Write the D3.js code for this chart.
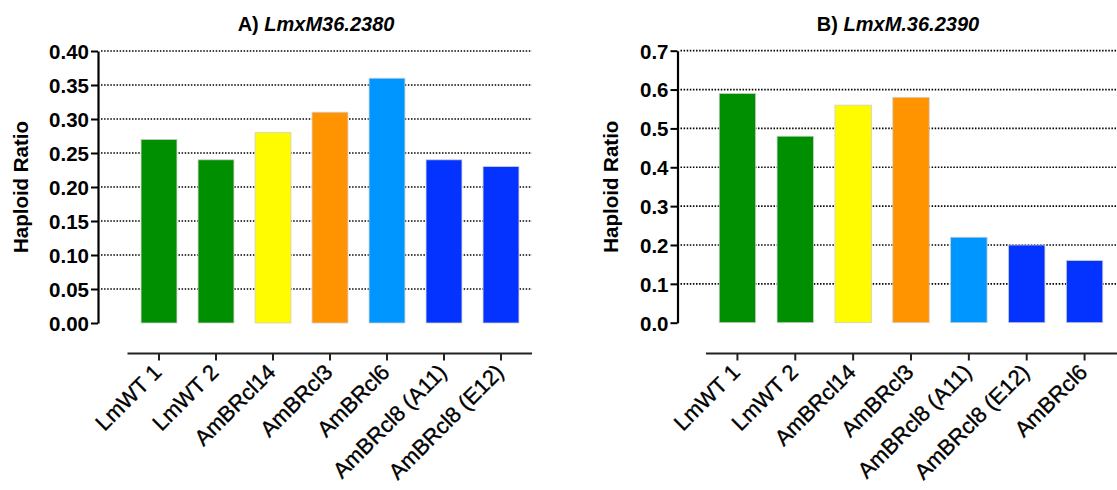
<!DOCTYPE html>
<html>
<head>
<meta charset="utf-8">
<script src="https://cdn.jsdelivr.net/npm/d3@7"></script>
<style>
  body { margin: 0; background: #fff; }
  svg text { font-family: "Liberation Sans", Arial, Helvetica, sans-serif; fill: #000; }
</style>
</head>
<body>
<svg id="chart" width="1117" height="490"></svg>
<script>
// data
const categoriesA = ["LmWT 1", "LmWT 2", "AmBRcl14", "AmBRcl3", "AmBRcl6", "AmBRcl8 (A11)", "AmBRcl8 (E12)"];
const valuesA = [0.27, 0.24, 0.28, 0.31, 0.36, 0.24, 0.23];
const colorsA = ["#008F00", "#008F00", "#FFFB00", "#FF9300", "#0096FF", "#0433FF", "#0433FF"];
const ticksA = [0, 0.05, 0.10, 0.15, 0.20, 0.25, 0.30, 0.35, 0.40];

const categoriesB = ["LmWT 1", "LmWT 2", "AmBRcl14", "AmBRcl3", "AmBRcl8 (A11)", "AmBRcl8 (E12)", "AmBRcl6"];
const valuesB = [0.59, 0.48, 0.56, 0.58, 0.22, 0.20, 0.16];
const colorsB = ["#008F00", "#008F00", "#FFFB00", "#FF9300", "#0096FF", "#0433FF", "#0433FF"];
const ticksB = [0, 0.1, 0.2, 0.3, 0.4, 0.5, 0.6, 0.7];

const svg = d3.select("#chart");

// panel layout
const panels = [
  { tag: "A) ", gene: "LmxM36.2380", cats: categoriesA, vals: valuesA, cols: colorsA, ticks: ticksA, fmt: ".2f",
    axisX: 98, top: 51, bottom: 323, gridEnd: 532, band: [130.5, 529.5], baseLine: [127.5, 532],
    baseY: 353.5, titleX: 316, labelX: 21 },
  { tag: "B) ", gene: "LmxM.36.2390", cats: categoriesB, vals: valuesB, cols: colorsB, ticks: ticksB, fmt: ".1f",
    axisX: 677.5, top: 50.7, bottom: 322.7, gridEnd: 1117, band: [708.5, 1113.5], baseLine: [706, 1117],
    baseY: 353.5, titleX: 898, labelX: 611 }
];

panels.forEach(function(p) {
  const y = d3.scaleLinear()
    .domain([0, d3.max(p.ticks)])
    .range([p.bottom, p.top]);

  const x = d3.scaleBand()
    .domain(p.cats)
    .range(p.band)
    .paddingInner(0.37)
    .paddingOuter(0.185);

  const g = svg.append("g");

  // dotted gridlines (none at zero)
  g.append("g")
    .selectAll("line")
    .data(p.ticks.filter(d => d > 0))
    .enter()
    .append("line")
    .attr("x1", p.axisX + 3)
    .attr("x2", p.gridEnd)
    .attr("y1", d => y(d))
    .attr("y2", d => y(d))
    .attr("stroke", "#000")
    .attr("stroke-width", 1.7)
    .attr("stroke-dasharray", "1.5,1.6");

  // bars
  g.append("g")
    .selectAll("rect")
    .data(p.vals)
    .enter()
    .append("rect")
    .attr("x", (d, i) => x(p.cats[i]))
    .attr("width", x.bandwidth())
    .attr("y", d => y(d))
    .attr("height", d => y(0) - y(d))
    .attr("fill", (d, i) => p.cols[i])
    .attr("stroke", "#cfcfcf")
    .attr("stroke-width", 0.8);

  // y axis
  const yAxis = g.append("g")
    .attr("transform", `translate(${p.axisX},0)`)
    .call(d3.axisLeft(y).tickValues(p.ticks).tickFormat(d3.format(p.fmt)).tickSize(7).tickSizeOuter(0).tickPadding(2));
  yAxis.select(".domain").attr("stroke", "#000").attr("stroke-width", 2.2);
  yAxis.selectAll(".tick line").attr("stroke", "#000").attr("stroke-width", 2);
  yAxis.selectAll(".tick text")
    .style("font-size", "20.5px")
    .style("font-weight", "bold")
    .attr("dy", "0.36em");

  // x axis, separate base line like the original
  const xAxis = g.append("g")
    .attr("transform", `translate(0,${p.baseY})`)
    .call(d3.axisBottom(x).tickSize(7).tickSizeOuter(0));
  xAxis.select(".domain").remove();
  xAxis.selectAll(".tick line").attr("stroke", "#222").attr("stroke-width", 2);
  xAxis.selectAll(".tick text")
    .style("font-size", "22px")
    .style("stroke", "#000")
    .style("stroke-width", 0.35)
    .attr("text-anchor", "end")
    .attr("x", 0).attr("y", 0).attr("dy", 0)
    .attr("transform", "translate(4,20) rotate(-45)");

  g.append("line")
    .attr("x1", p.baseLine[0])
    .attr("x2", p.baseLine[1])
    .attr("y1", p.baseY)
    .attr("y2", p.baseY)
    .attr("stroke", "#222")
    .attr("stroke-width", 2.2);

  // title
  const t = g.append("text")
    .attr("x", p.titleX)
    .attr("y", 31)
    .attr("text-anchor", "middle")
    .style("font-size", "20px")
    .style("font-weight", "bold");
  t.append("tspan").text(p.tag);
  t.append("tspan").style("font-style", "italic").text(p.gene);

  // y label
  g.append("text")
    .attr("transform", `translate(${p.labelX},${(p.top + p.bottom) / 2}) rotate(-90)`)
    .attr("text-anchor", "middle")
    .attr("dy", "0.36em")
    .style("font-size", "20.5px")
    .style("font-weight", "bold")
    .text("Haploid Ratio");
});
</script>
</body>
</html>
